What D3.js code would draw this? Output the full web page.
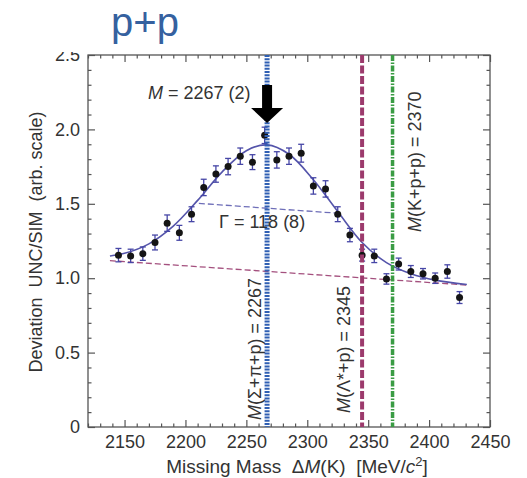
<!DOCTYPE html>
<html>
<head>
<meta charset="utf-8">
<script src="https://cdn.jsdelivr.net/npm/d3@7"></script>
<style>
  body { margin: 0; background: #fff; }
  text { font-family: "Liberation Sans", Arial, sans-serif; fill: #333; }
</style>
</head>
<body>
<svg id="chart" width="527" height="478"></svg>
<script>
// measured points (MeV/c^2 vs. deviation)
const massX = [2145, 2155, 2165, 2175, 2185, 2195, 2205, 2215, 2225, 2235, 2245, 2255, 2265, 2275, 2285,
  2295, 2305, 2315, 2325, 2335, 2345, 2355, 2365, 2375, 2385, 2395, 2405, 2415, 2425]
const deviation = [1.155, 1.15, 1.165, 1.24, 1.37, 1.305, 1.43, 1.61, 1.70, 1.75, 1.82, 1.78, 1.96, 1.795, 1.82,
  1.84, 1.62, 1.60, 1.43, 1.29, 1.155, 1.15, 0.995, 1.095, 1.045, 1.03, 1.00, 1.045, 0.87]
const errors = [0.045, 0.045, 0.045, 0.05, 0.055, 0.05, 0.05, 0.055, 0.055, 0.055, 0.055, 0.05, 0.055, 0.055, 0.055,
  0.06, 0.055, 0.055, 0.05, 0.045, 0.04, 0.045, 0.035, 0.04, 0.04, 0.035, 0.035, 0.045, 0.04]

// fit curve
const fitX = [2138, 2150, 2170, 2190, 2210, 2230, 2250, 2267, 2285, 2305, 2325, 2345, 2365, 2385, 2405, 2431]
const fitY = [1.149, 1.167, 1.231, 1.350, 1.523, 1.713, 1.857, 1.896, 1.833, 1.662, 1.448, 1.24, 1.105, 1.03, 0.987, 0.958]

// background and half-width lines
const bgX = [2138, 2431]
const bgY = [1.118, 0.954]
const gammaX = [2211, 2326]
const gammaY = [1.503, 1.436]

// thresholds
const markerMass = [2267, 2345, 2370]
const markerText = ['(Σ+π+p) = 2267', '(Λ*+p) = 2345', '(K+p+p) = 2370']
const markerColor = ['#2f5fb3', '#9c3a6c', '#3a9c44']

const xTicks = [2150, 2200, 2250, 2300, 2350, 2400, 2450]
const yTicks = [0, 0.5, 1.0, 1.5, 2.0, 2.5]
const yTickLabels = ['0', '0.5', '1.0', '1.5', '2.0', '2.5']

const svg = d3.select('#chart')
const mLeft = 88, mRight = 490, mTop = 55, mBottom = 427

const x = d3.scaleLinear().domain([2120, 2450]).range([mLeft, mRight])
const y = d3.scaleLinear().domain([0, 2.5]).range([mBottom, mTop])

const minorX = d3.range(2120, 2451, 10).filter((v) => v % 50 !== 0)
const minorY = d3.range(0, 25).map((v) => v / 10).filter((v, i) => i % 5 !== 0)

function styleAxis(g) {
  g.select('.domain').remove()
  g.selectAll('line').attr('stroke', '#555').attr('stroke-width', 1.2)
  g.selectAll('text').attr('font-size', 18).attr('fill', '#333')
}

// bottom
svg.append('g').attr('transform', `translate(0,${mBottom})`)
  .call(d3.axisBottom(x).tickValues(xTicks).tickSize(-7).tickPadding(8).tickFormat(d3.format('d')))
  .call(styleAxis)
svg.append('g').attr('transform', `translate(0,${mBottom})`)
  .call(d3.axisBottom(x).tickValues(minorX).tickSize(-3.5).tickFormat(''))
  .call(styleAxis)
// top
svg.append('g').attr('transform', `translate(0,${mTop})`)
  .call(d3.axisTop(x).tickValues(xTicks).tickSize(-7).tickFormat(''))
  .call(styleAxis)
svg.append('g').attr('transform', `translate(0,${mTop})`)
  .call(d3.axisTop(x).tickValues(minorX).tickSize(-3.5).tickFormat(''))
  .call(styleAxis)
// left
svg.append('g').attr('transform', `translate(${mLeft},0)`)
  .call(d3.axisLeft(y).tickValues(yTicks).tickSize(-7).tickPadding(8).tickFormat((d, i) => yTickLabels[i]))
  .call(styleAxis)
svg.append('g').attr('transform', `translate(${mLeft},0)`)
  .call(d3.axisLeft(y).tickValues(minorY).tickSize(-3.5).tickFormat(''))
  .call(styleAxis)
// right
svg.append('g').attr('transform', `translate(${mRight},0)`)
  .call(d3.axisRight(y).tickValues(yTicks).tickSize(-7).tickFormat(''))
  .call(styleAxis)
svg.append('g').attr('transform', `translate(${mRight},0)`)
  .call(d3.axisRight(y).tickValues(minorY).tickSize(-3.5).tickFormat(''))
  .call(styleAxis)

svg.append('rect')
  .attr('x', mLeft).attr('y', mTop)
  .attr('width', mRight - mLeft).attr('height', mBottom - mTop)
  .attr('fill', 'none').attr('stroke', '#555').attr('stroke-width', 1.3)

// background line
svg.append('line')
  .attr('x1', x(bgX[0])).attr('y1', y(bgY[0]))
  .attr('x2', x(bgX[1])).attr('y2', y(bgY[1]))
  .attr('stroke', '#a4507e').attr('stroke-width', 1.3).attr('stroke-dasharray', '6 3')

// half width line
svg.append('line')
  .attr('x1', x(gammaX[0])).attr('y1', y(gammaY[0]))
  .attr('x2', x(gammaX[1])).attr('y2', y(gammaY[1]))
  .attr('stroke', '#6e6eb8').attr('stroke-width', 1.3).attr('stroke-dasharray', '6 3')

// fit
const line = d3.line().x((d) => x(d[0])).y((d) => y(d[1])).curve(d3.curveCatmullRom)
svg.append('path')
  .datum(fitX.map((v, i) => [v, fitY[i]]))
  .attr('d', line)
  .attr('fill', 'none').attr('stroke', '#5454aa').attr('stroke-width', 1.6)

// error bars
const pts = svg.append('g')
massX.forEach((m, i) => {
  const cx = x(m)
  const y1 = y(deviation[i] - errors[i])
  const y2 = y(deviation[i] + errors[i])
  pts.append('line').attr('x1', cx).attr('x2', cx).attr('y1', y1).attr('y2', y2)
    .attr('stroke', '#4646a6').attr('stroke-width', 1.3)
  ;[y1, y2].forEach((yy) => {
    pts.append('line').attr('x1', cx - 3).attr('x2', cx + 3).attr('y1', yy).attr('y2', yy)
      .attr('stroke', '#4646a6').attr('stroke-width', 1.3)
  })
})
pts.selectAll('circle')
  .data(massX)
  .join('circle')
  .attr('cx', (d) => x(d))
  .attr('cy', (d, i) => y(deviation[i]))
  .attr('r', 3.5)
  .attr('fill', '#151515')

// vertical thresholds
const dashes = ['2 1.2', '8 2.5', '6 1.5 1.5 1.5']
const widths = [5, 4, 3.5]
markerMass.forEach((m, i) => {
  svg.append('line')
    .attr('x1', x(m)).attr('x2', x(m)).attr('y1', mTop).attr('y2', mBottom)
    .attr('stroke', markerColor[i]).attr('stroke-width', widths[i]).attr('stroke-dasharray', dashes[i])
})

const labelPos = [[-6, 420], [-12, 413], [28, 232]]
markerMass.forEach((m, i) => {
  const t = svg.append('text')
    .attr('transform', `translate(${x(m) + labelPos[i][0]},${labelPos[i][1]}) rotate(-90)`)
    .attr('font-size', 18)
  t.append('tspan').attr('font-style', 'italic').text('M')
  t.append('tspan').text(markerText[i])
})

// arrow
const ax = x(markerMass[0])
svg.append('path')
  .attr('d', `M${ax - 5},85 L${ax + 5},85 L${ax + 5},108 L${ax + 16},108 L${ax},123 L${ax - 16},108 L${ax - 5},108 Z`)
  .attr('fill', '#000')

const mLabel = svg.append('text').attr('x', 148).attr('y', 99).attr('font-size', 18)
mLabel.append('tspan').attr('font-style', 'italic').text('M')
mLabel.append('tspan').text(' = 2267 (2)')

svg.append('text').attr('x', 219).attr('y', 228).attr('font-size', 18).text('Γ = 118 (8)')

// axis titles
svg.append('text')
  .attr('transform', 'translate(42,242) rotate(-90)')
  .attr('text-anchor', 'middle').attr('font-size', 18)
  .style('white-space', 'pre')
  .text('Deviation  UNC/SIM  (arb. scale)')

const xl = svg.append('text')
  .attr('x', 297).attr('y', 473).attr('text-anchor', 'middle').attr('font-size', 19)
  .style('white-space', 'pre')
xl.append('tspan').text('Missing Mass  Δ')
xl.append('tspan').attr('font-style', 'italic').text('M')
xl.append('tspan').text('(K)  [MeV/')
xl.append('tspan').attr('font-style', 'italic').text('c')
xl.append('tspan').attr('font-size', 13).attr('dy', -7).text('2')
xl.append('tspan').attr('dy', 7).text(']')

// top of the 2.5 label is hidden behind the title box
svg.append('rect').attr('x', 55).attr('y', 0).attr('width', 32).attr('height', 52).attr('fill', '#fff')

svg.append('text')
  .attr('x', 145).attr('y', 36).attr('text-anchor', 'middle')
  .attr('font-size', 40)
  .style('fill', '#35619f')
  .text('p+p')
</script>
</body>
</html>
